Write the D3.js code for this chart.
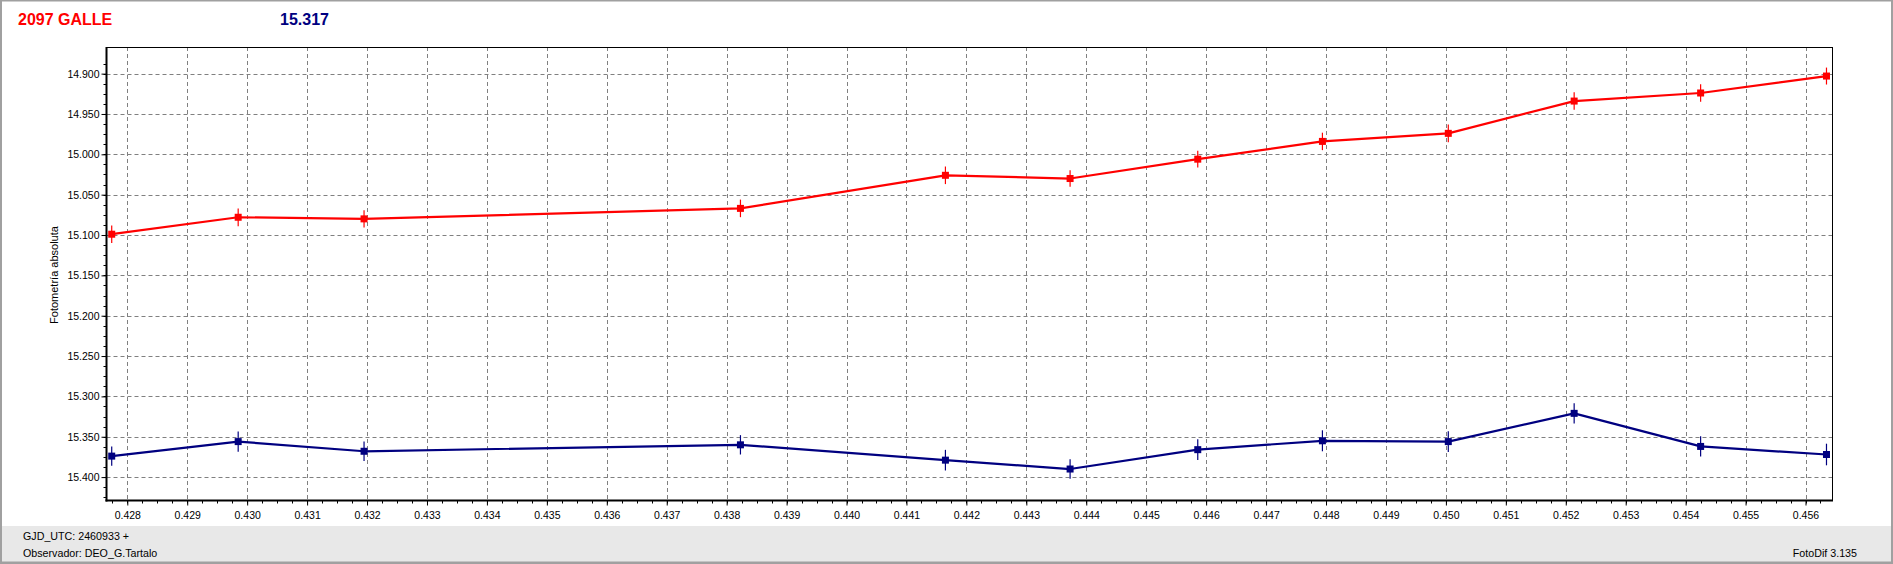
<!DOCTYPE html>
<html>
<head>
<meta charset="utf-8">
<script src="https://cdn.jsdelivr.net/npm/d3@7/dist/d3.min.js"></script>
<style>
  html, body { margin: 0; padding: 0; background: #fff; }
  svg { display: block; }
  text { font-family: "Liberation Sans", Arial, sans-serif; }
</style>
</head>
<body>
<svg id="chart" width="1893" height="564"></svg>
<script>
// ---- data ----
const times = [0.42774, 0.42985, 0.43195, 0.43823, 0.44165, 0.44373, 0.44586, 0.44794, 0.45004, 0.45214, 0.45425, 0.45635];
const redMag = [15.099, 15.078, 15.080, 15.067, 15.026, 15.030, 15.006, 14.984, 14.974, 14.934, 14.924, 14.903];
const redErr = [0.0108, 0.0110, 0.0108, 0.0109, 0.0109, 0.0103, 0.0103, 0.0108, 0.0109, 0.0109, 0.0109, 0.0105];
const blueMag = [15.374, 15.356, 15.368, 15.360, 15.379, 15.390, 15.366, 15.355, 15.356, 15.321, 15.362, 15.372];
const blueErr = [0.0120, 0.0126, 0.0121, 0.0120, 0.0128, 0.0121, 0.0128, 0.0130, 0.0128, 0.0125, 0.0126, 0.0134];
const xTicks = [0.428, 0.429, 0.430, 0.431, 0.432, 0.433, 0.434, 0.435, 0.436, 0.437, 0.438, 0.439, 0.440, 0.441, 0.442, 0.443, 0.444, 0.445, 0.446, 0.447, 0.448, 0.449, 0.450, 0.451, 0.452, 0.453, 0.454, 0.455, 0.456];
const yTicks = [14.900, 14.950, 15.000, 15.050, 15.100, 15.150, 15.200, 15.250, 15.300, 15.350, 15.400];
const titleLeft = "2097 GALLE";
const titleRight = "15.317";
const yTitle = "Fotometría absoluta";
const footLine1 = "GJD_UTC: 2460933 +";
const footLine2 = "Observador: DEO_G.Tartalo";
const footRight = "FotoDif 3.135";

// ---- layout ----
const W = 1893, H = 564;
const L = 106.5, R = 1832, T = 47, B = 500.5;
const svg = d3.select("#chart");

const x = d3.scaleLinear().domain([0.427653, 0.456442]).range([L, R]);
const y = d3.scaleLinear().domain([14.867, 15.429]).range([T, B]);

// background
svg.append("rect").attr("x", 0).attr("y", 0).attr("width", W).attr("height", H).attr("fill", "#fff");
// bottom status panel
svg.append("rect").attr("x", 0).attr("y", 526).attr("width", W).attr("height", 38).attr("fill", "#e8e8e8");
svg.append("line").attr("x1", 0).attr("x2", W).attr("y1", 562.5).attr("y2", 562.5).attr("stroke", "#a0a0a0").attr("stroke-width", 2);
// outer frame
svg.append("rect").attr("x", 1).attr("y", 0.5).attr("width", W - 2).attr("height", H - 1.5)
  .attr("fill", "none").attr("stroke", "#a0a0a0").attr("stroke-width", 2);

// titles
svg.append("text").attr("x", 18).attr("y", 25).attr("fill", "#ff0000")
  .attr("font-size", 16).attr("font-weight", "bold").text(titleLeft);
svg.append("text").attr("x", 280).attr("y", 25).attr("fill", "#000080")
  .attr("font-size", 16).attr("font-weight", "bold").text(titleRight);

// grid
const grid = svg.append("g");
grid.selectAll("line.gx").data(xTicks).join("line")
  .attr("x1", d => Math.round(x(d)) + 0.5).attr("x2", d => Math.round(x(d)) + 0.5)
  .attr("y1", T).attr("y2", B)
  .attr("stroke", "#808080").attr("stroke-width", 1).attr("stroke-dasharray", "4,3");
grid.selectAll("line.gy").data(yTicks).join("line")
  .attr("x1", L).attr("x2", R)
  .attr("y1", d => Math.round(y(d)) + 0.5).attr("y2", d => Math.round(y(d)) + 0.5)
  .attr("stroke", "#808080").attr("stroke-width", 1).attr("stroke-dasharray", "4,3");

// minor ticks
const xMinor = [];
for (let v = 0.42775; v < 0.4564; v += 0.00025) xMinor.push(v);
const yMinor = [];
for (let v = 14.8875; v < 15.428; v += 0.0125) yMinor.push(v);
svg.append("g").selectAll("line").data(xMinor).join("line")
  .attr("x1", d => Math.round(x(d)) + 0.5).attr("x2", d => Math.round(x(d)) + 0.5)
  .attr("y1", B).attr("y2", B + 3).attr("stroke", "#000").attr("stroke-width", 1);
svg.append("g").selectAll("line").data(yMinor).join("line")
  .attr("y1", d => Math.round(y(d)) + 0.5).attr("y2", d => Math.round(y(d)) + 0.5)
  .attr("x1", L - 3).attr("x2", L).attr("stroke", "#000").attr("stroke-width", 1);

// axes
const xAxis = d3.axisBottom(x).tickValues(xTicks).tickFormat(d3.format(".3f")).tickSize(5).tickPadding(6);
const yAxis = d3.axisLeft(y).tickValues(yTicks).tickFormat(d3.format(".3f")).tickSize(5).tickPadding(2);
const gx = svg.append("g").attr("transform", `translate(0,${B})`).call(xAxis);
const gy = svg.append("g").attr("transform", `translate(${L},0)`).call(yAxis);
[gx, gy].forEach(g => {
  g.select(".domain").remove();
  g.selectAll("text").attr("font-family", "'Liberation Sans', Arial, sans-serif").attr("font-size", 10.5).attr("fill", "#000");
  g.selectAll(".tick line").attr("stroke", "#000");
});

// plot frame
svg.append("line").attr("x1", L).attr("x2", R).attr("y1", T + 0.5).attr("y2", T + 0.5).attr("stroke", "#000").attr("stroke-width", 1);
svg.append("line").attr("x1", R + 0.5).attr("x2", R + 0.5).attr("y1", T).attr("y2", B).attr("stroke", "#000").attr("stroke-width", 1);
svg.append("line").attr("x1", L).attr("x2", L).attr("y1", T).attr("y2", B + 1).attr("stroke", "#000").attr("stroke-width", 2);
svg.append("line").attr("x1", L - 1).attr("x2", R + 1).attr("y1", B).attr("y2", B).attr("stroke", "#000").attr("stroke-width", 2);

// y title
svg.append("text").attr("transform", "translate(58,275) rotate(-90)")
  .attr("text-anchor", "middle").attr("font-size", 11).attr("fill", "#000").text(yTitle);

// series
function drawSeries(mags, errs, color) {
  const data = times.map((t, i) => ({ t, m: mags[i], e: errs[i] }));
  const line = d3.line().x(d => x(d.t)).y(d => y(d.m));
  const g = svg.append("g");
  g.append("path").datum(data).attr("d", line)
    .attr("fill", "none").attr("stroke", color).attr("stroke-width", 2.2).attr("stroke-linejoin", "round");
  g.selectAll("line.err").data(data).join("line")
    .attr("x1", d => x(d.t)).attr("x2", d => x(d.t))
    .attr("y1", d => y(d.m - d.e)).attr("y2", d => y(d.m + d.e))
    .attr("stroke", color).attr("stroke-width", 1.2);
  g.selectAll("rect.mk").data(data).join("rect")
    .attr("x", d => x(d.t) - 3.5).attr("y", d => y(d.m) - 3.5)
    .attr("width", 7).attr("height", 7).attr("fill", color);
}
drawSeries(redMag, redErr, "#ff0000");
drawSeries(blueMag, blueErr, "#000080");

// footer text
svg.append("text").attr("x", 23).attr("y", 540).attr("font-size", 10.7).attr("fill", "#000").text(footLine1);
svg.append("text").attr("x", 23).attr("y", 556.5).attr("font-size", 10.7).attr("fill", "#000").text(footLine2);
svg.append("text").attr("x", 1857).attr("y", 556.5).attr("text-anchor", "end").attr("font-size", 10.7).attr("fill", "#000").text(footRight);
</script>
</body>
</html>
